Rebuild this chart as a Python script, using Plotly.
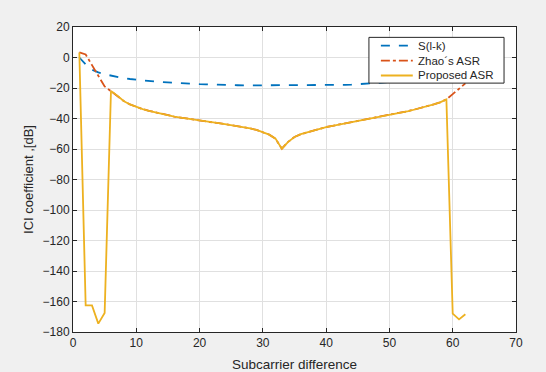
import plotly.graph_objects as go

x_blue = list(range(1, 63))
s_lk = [0, -4.5, -8, -9.8, -11, -12, -12.8, -13.5, -14.1, -14.6,
        -15, -15.4, -15.8, -16.1, -16.4, -16.7, -16.9, -17.1, -17.3, -17.5,
        -17.6, -17.8, -17.9, -18, -18.1, -18.2, -18.3, -18.3, -18.3, -18.3,
        -18.3, -18.3, -18.3, -18.3, -18.3, -18.3, -18.3, -18.2, -18.2, -18.1,
        -18.1, -18, -17.9, -17.8, -17.6, -17.4, -17.0, -16.7, -16.4, -16.1,
        -15.8, -15.4, -15, -14.6, -14.1, -13.5, -12.8, -12, -11, -9.8,
        -8, -4.5]

x_prop = list(range(1, 63))
proposed = [3.3, -162.6, -162.6, -174.5, -167.5, -22, -25, -28.5, -30.8, -32.4,
            -33.8, -35, -36, -37, -37.9, -38.7, -39.4, -40.1, -40.7, -41.3,
            -41.9, -42.5, -43.1, -43.7, -44.3, -45, -45.7, -46.5, -47.5, -48.9,
            -50.6, -53.2, -59.8, -55.3, -52.1, -50.3, -49, -47.9, -46.7, -45.6,
            -44.8, -44, -43.3, -42.5, -41.8, -41, -40.2, -39.4, -38.7, -37.9,
            -37, -36.1, -35.1, -34.1, -33.1, -32, -30.8, -29.4, -27.5, -168,
            -171.7, -168.4]

x_zhao = list(range(1, 63))
zhao = [3.3, 2.0, -5, -12.5, -19, -22, -25, -28.5, -30.8, -32.4,
        -33.8, -35, -36, -37, -37.9, -38.7, -39.4, -40.1, -40.7, -41.3,
        -41.9, -42.5, -43.1, -43.7, -44.3, -45, -45.7, -46.5, -47.5, -48.9,
        -50.6, -53.2, -59.8, -55.3, -52.1, -50.3, -49, -47.9, -46.7, -45.6,
        -44.8, -44, -43.3, -42.5, -41.8, -41, -40.2, -39.4, -38.7, -37.9,
        -37, -36.1, -35.1, -34.1, -33.1, -32, -30.8, -29.4, -27.5, -24,
        -20.5, -17]

x_ticks = [0, 10, 20, 30, 40, 50, 60, 70]
y_ticks = [20, 0, -20, -40, -60, -80, -100, -120, -140, -160, -180]

series_names = ["S(l-k)", "Zhao\u00b4s ASR", "Proposed ASR"]
series_colors = ["#0072BD", "#D95319", "#EDB120"]
series_dash = ["dash", "dashdot", "solid"]

dark = "#262626"
font_family = "Liberation Sans, Arial, sans-serif"
LW = 1.8

fig = go.Figure()
for xs, ys, name, col, dsh in zip([x_blue, x_zhao, x_prop], [s_lk, zhao, proposed],
                                  series_names, series_colors, series_dash):
    fig.add_trace(go.Scatter(x=xs, y=ys, mode="lines", name=name,
                             line=dict(color=col, width=LW, dash=dsh),
                             showlegend=False))

axis_common = dict(
    showgrid=True, gridcolor="#e0e0e0", gridwidth=1,
    showline=True, linecolor=dark, linewidth=1, mirror="ticks",
    ticks="inside", ticklen=4, tickcolor=dark,
    tickfont=dict(family=font_family, size=12, color=dark),
    zeroline=False, automargin=False,
)

fig.update_layout(
    width=546, height=372,
    margin=dict(l=73, r=30, t=27, b=40),
    paper_bgcolor="#f0f0f0", plot_bgcolor="white",
    font=dict(family=font_family, color=dark),
    xaxis=dict(range=[0, 70], tickvals=x_ticks,
               title=dict(text="Subcarrier difference", standoff=10,
                          font=dict(family=font_family, size=13.5, color=dark)),
               **axis_common),
    yaxis=dict(range=[-180, 20], tickvals=y_ticks,
               title=dict(text="ICI coefficient ,[dB]", standoff=6,
                          font=dict(family=font_family, size=13, color=dark)),
               **axis_common),
    showlegend=False,
)

# manual MATLAB-style legend box
lx0, lx1, ly0, ly1 = 0.668, 0.973, 0.816, 0.966
fig.add_shape(type="rect", xref="paper", yref="paper", x0=lx0, x1=lx1, y0=ly0, y1=ly1,
              fillcolor="white", line=dict(color=dark, width=1), layer="above")
row_y = [0.939, 0.890, 0.841]
for ry, name, col, dsh in zip(row_y, series_names, series_colors, series_dash):
    fig.add_shape(type="line", xref="paper", yref="paper", x0=0.695, x1=0.767,
                  y0=ry, y1=ry, line=dict(color=col, width=LW, dash=dsh), layer="above")
    fig.add_annotation(xref="paper", yref="paper", x=0.775, y=ry, text=name,
                       showarrow=False, xanchor="left", yanchor="middle",
                       font=dict(family=font_family, size=11.5, color=dark))

fig.write_html("out.html", config={"displayModeBar": False},
               post_script="document.body.style.margin='0';document.body.style.background='#f0f0f0';")
